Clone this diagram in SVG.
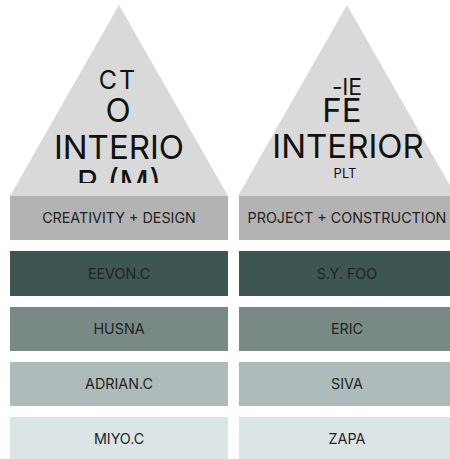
<svg xmlns="http://www.w3.org/2000/svg" width="450" height="459" viewBox="0 0 450 459">
  <style>
    .tri { fill: #d9d9d9; }
    .big { font-family: Inter, "Noto Sans", "Liberation Sans", sans-serif; font-size: 33px; fill: #111; text-anchor: middle; }
    .small { font-family: Inter, "Noto Sans", "Liberation Sans", sans-serif; font-size: 13px; fill: #111; text-anchor: middle; }
    .lbl { font-family: Inter, "Noto Sans", "Liberation Sans", sans-serif; font-size: 14.3px; fill: #222; text-anchor: middle; dominant-baseline: central; }
    .hdr { fill: #b3b3b3; }
    .r1 { fill: #3e5653; }
    .r2 { fill: #798a86; }
    .r3 { fill: #adbcba; }
    .r4 { fill: #dce5e5; }
  </style>
  <defs>
    <clipPath id="clipCT"><rect x="90" y="69" width="60" height="25"/></clipPath>
    <clipPath id="clipRM"><rect x="40" y="160" width="160" height="23"/></clipPath>
    <clipPath id="clipFE"><rect x="320" y="70" width="60" height="26"/></clipPath>
  </defs>
  <rect width="450" height="459" fill="#ffffff"/>

  <g id="node-left-triangle">
    <polygon class="tri" points="119,5 228,196 10,196"/>
    <text class="big" x="118" y="89" clip-path="url(#clipCT)" style="font-size:25px;letter-spacing:2px">CT</text>
    <text class="big" x="118" y="122">O</text>
    <text class="big" x="119" y="159">INTERIO</text>
    <text class="big" x="119" y="194" clip-path="url(#clipRM)">R (M)</text>
  </g>

  <g id="node-right-triangle">
    <polygon class="tri" points="347,5 456,196 238,196"/>
    <text class="big" x="347" y="95" clip-path="url(#clipFE)" style="font-size:23px">-lE</text>
    <text class="big" x="342" y="122">FE</text>
    <text class="big" x="348" y="158">INTERIOR</text>
    <text class="small" x="345" y="178">PLT</text>
  </g>

  <g id="node-creativity-design">
    <rect class="hdr" x="10" y="196" width="218" height="44"/>
    <text class="lbl" x="119" y="217">CREATIVITY + DESIGN</text>
  </g>
  <g id="node-project-construction">
    <rect class="hdr" x="239" y="196" width="218" height="44"/>
    <text class="lbl" x="347" y="217">PROJECT + CONSTRUCTION</text>
  </g>

  <g id="node-eevon">
    <rect class="r1" x="10" y="251" width="218" height="45"/>
    <text class="lbl" x="119" y="273">EEVON.C</text>
  </g>
  <g id="node-syfoo">
    <rect class="r1" x="239" y="251" width="218" height="45"/>
    <text class="lbl" x="347" y="273">S.Y. FOO</text>
  </g>

  <g id="node-husna">
    <rect class="r2" x="10" y="307" width="218" height="44"/>
    <text class="lbl" x="119" y="328">HUSNA</text>
  </g>
  <g id="node-eric">
    <rect class="r2" x="239" y="307" width="218" height="44"/>
    <text class="lbl" x="347" y="328">ERIC</text>
  </g>

  <g id="node-adrian">
    <rect class="r3" x="10" y="362" width="218" height="44"/>
    <text class="lbl" x="119" y="383">ADRIAN.C</text>
  </g>
  <g id="node-siva">
    <rect class="r3" x="239" y="362" width="218" height="44"/>
    <text class="lbl" x="347" y="383">SIVA</text>
  </g>

  <g id="node-miyo">
    <rect class="r4" x="10" y="417" width="218" height="42"/>
    <text class="lbl" x="119" y="438">MIYO.C</text>
  </g>
  <g id="node-zapa">
    <rect class="r4" x="239" y="417" width="218" height="42"/>
    <text class="lbl" x="347" y="438">ZAPA</text>
  </g>

  <g id="connectors"></g>
</svg>
